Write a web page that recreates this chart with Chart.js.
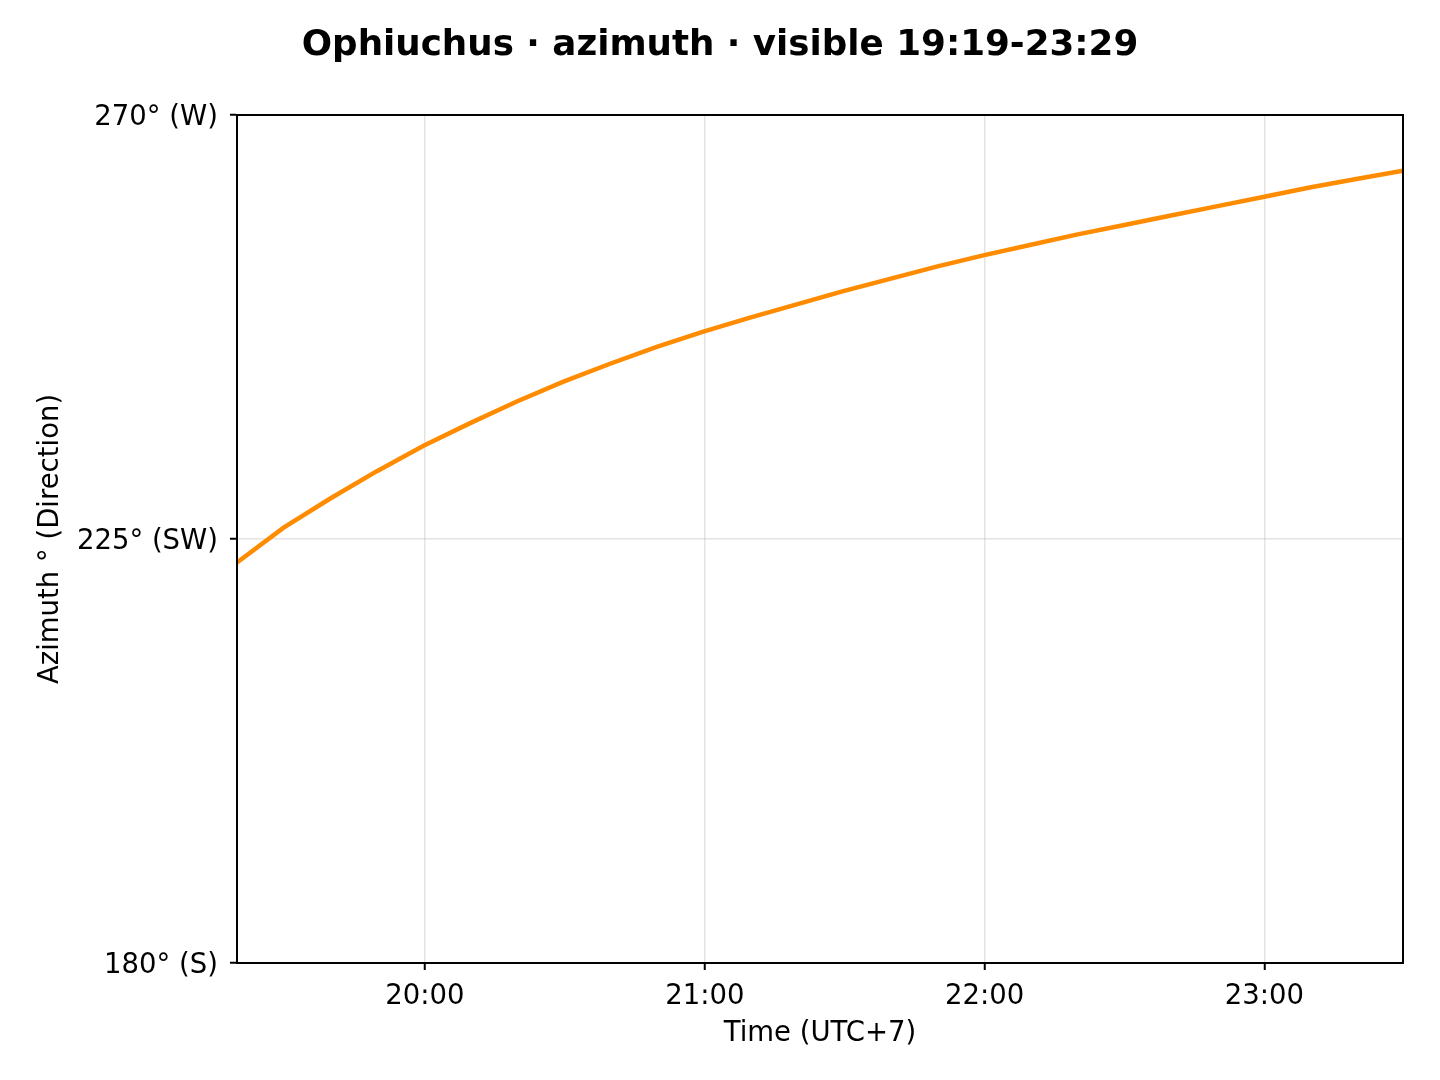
<!DOCTYPE html>
<html>
<head>
<meta charset="utf-8">
<script src="https://cdn.jsdelivr.net/npm/chart.js@4"></script>
<style>
html,body{margin:0;padding:0;background:#fff;}
#wrap{width:1440px;height:1080px;}
</style>
</head>
<body>
<div id="wrap"><canvas id="c" width="1440" height="1080"></canvas></div>
<script>
// minutes after 19:00 (local UTC+7)
const timeMinutes = [19.7, 29.7, 39.7, 49.7, 59.7, 69.7, 79.7, 89.7, 99.7, 109.7,
  119.7, 129.7, 139.7, 149.7, 159.7, 169.7, 179.7, 189.7, 199.7, 209.7,
  219.7, 229.7, 239.7, 249.7, 259.7, 269.7];
const azimuth = [222.5, 226.2, 229.3, 232.2, 234.9, 237.3, 239.6, 241.7, 243.6, 245.4,
  247.0, 248.5, 249.9, 251.3, 252.6, 253.9, 255.1, 256.2, 257.3, 258.3,
  259.3, 260.3, 261.3, 262.3, 263.2, 264.1];
const xTickMinutes = [60, 120, 180, 240];
const xTickLabels = ['20:00', '21:00', '22:00', '23:00'];
const yTickValues = [180, 225, 270];
const yTickLabels = ['180° (S)', '225° (SW)', '270° (W)'];
const titleText = 'Ophiuchus · azimuth · visible 19:19-23:29';

const FONT = 'DejaVu Sans';

const frame = {
  id: 'frame',
  afterDatasetsDraw(chart) {
    const a = chart.chartArea, ctx = chart.ctx;
    ctx.save();
    ctx.strokeStyle = '#000';
    ctx.lineWidth = 2;
    ctx.strokeRect(a.left, a.top, a.right - a.left, a.bottom - a.top);
    ctx.restore();
  }
};

const figTitle = {
  id: 'figTitle',
  afterDraw(chart) {
    const ctx = chart.ctx;
    ctx.save();
    ctx.fillStyle = '#000';
    ctx.font = 'bold 35.7px "' + FONT + '"';
    ctx.textAlign = 'center';
    ctx.textBaseline = 'middle';
    ctx.fillText(titleText, chart.width / 2, 46);
    ctx.restore();
  }
};

new Chart(document.getElementById('c'), {
  type: 'line',
  data: {
    datasets: [{
      data: timeMinutes.map((t, i) => ({x: t, y: azimuth[i]})),
      borderColor: '#ff8c00',
      borderWidth: 4.5,
      pointRadius: 0,
      tension: 0,
      fill: false
    }]
  },
  options: {
    responsive: false,
    animation: false,
    devicePixelRatio: 1,
    layout: {padding: {left: 0, right: 37, top: 115, bottom: 0}},
    plugins: {
      legend: {display: false},
      tooltip: {enabled: false},
      title: {display: false}
    },
    scales: {
      x: {
        type: 'linear',
        min: timeMinutes[0],
        max: timeMinutes[timeMinutes.length - 1],
        afterBuildTicks(scale) {
          scale.ticks = xTickMinutes.map(v => ({value: v}));
        },
        afterFit(scale) { scale.height = 117; },
        ticks: {
          autoSkip: false,
          maxRotation: 0,
          color: '#000',
          font: {family: FONT, size: 27.5},
          padding: 10,
          callback: (v) => xTickLabels[xTickMinutes.indexOf(v)]
        },
        grid: {color: 'rgba(176,176,176,0.35)', lineWidth: 1.5, tickLength: 7, tickColor: '#000', tickWidth: 2},
        border: {display: true, color: '#000', width: 2},
        title: {
          display: true,
          text: 'Time (UTC+7)',
          color: '#000',
          font: {family: FONT, size: 27.5, lineHeight: 1.2},
          padding: {top: 4, bottom: 30}
        }
      },
      y: {
        type: 'linear',
        min: 180,
        max: 270,
        afterBuildTicks(scale) {
          scale.ticks = yTickValues.map(v => ({value: v}));
        },
        afterFit(scale) { scale.width = 237; },
        ticks: {
          autoSkip: false,
          color: '#000',
          font: {family: FONT, size: 27.5},
          padding: 12,
          labelOffset: 3,
          callback: (v) => yTickLabels[yTickValues.indexOf(v)]
        },
        grid: {color: 'rgba(176,176,176,0.35)', lineWidth: 1.5, tickLength: 7, tickColor: '#000', tickWidth: 2},
        border: {display: true, color: '#000', width: 2},
        title: {
          display: true,
          text: 'Azimuth ° (Direction)',
          color: '#000',
          font: {family: FONT, size: 27.5, lineHeight: 1.2},
          padding: {top: 34, bottom: 4}
        }
      }
    }
  },
  plugins: [frame, figTitle]
});
</script>
</body>
</html>
